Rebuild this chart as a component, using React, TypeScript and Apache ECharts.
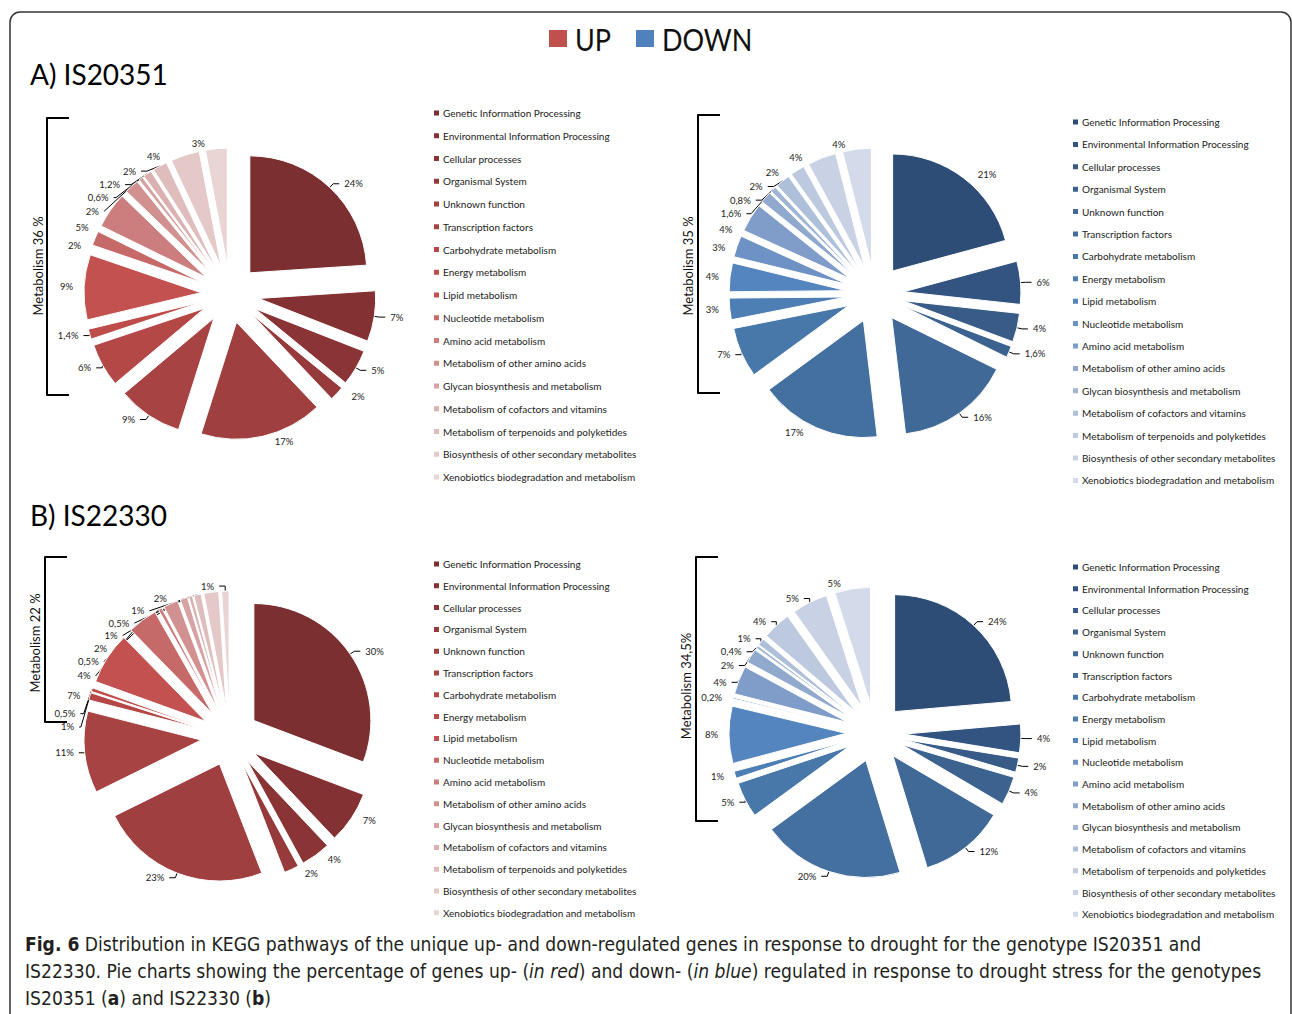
import React, { useEffect, useRef } from "react";
import * as echarts from "echarts";

const categories = [
  "Genetic Information Processing",
  "Environmental Information Processing",
  "Cellular processes",
  "Organismal System",
  "Unknown function",
  "Transcription factors",
  "Carbohydrate metabolism",
  "Energy metabolism",
  "Lipid metabolism",
  "Nucleotide metabolism",
  "Amino acid metabolism",
  "Metabolism of other amino acids",
  "Glycan biosynthesis and metabolism",
  "Metabolism of cofactors and vitamins",
  "Metabolism of terpenoids and polyketides",
  "Biosynthesis of other secondary metabolites",
  "Xenobiotics biodegradation and metabolism",
];

// A) IS20351
const upA = [24, 7, 5, 2, 17, 9, 6, 1.4, 9, 2, 5, 2, 0.6, 1.2, 2, 4, 3];
const downA = [21, 6, 4, 1.6, 16, 17, 7, 3, 4, 3, 4, 1.6, 0.8, 2, 2, 4, 4];
// B) IS22330
const upB = [30, 7, 4, 2, 23, 11, 1, 0.5, 7, 4, 0.5, 2, 1, 0.5, 1, 2, 1];
const downB = [24, 4, 2, 4, 12, 20, 5, 1, 8, 0.2, 4, 2, 0.4, 1, 4, 5, 5];

// which labels carry a leader line
const upALeader = [1, 1, 1, 0, 0, 1, 1, 1, 0, 0, 0, 1, 1, 1, 1, 0, 0];
const downALeader = [0, 1, 1, 1, 1, 0, 1, 0, 0, 0, 0, 1, 1, 1, 0, 0, 0];
const upBLeader = [1, 0, 0, 0, 1, 1, 1, 1, 0, 1, 1, 0, 1, 1, 1, 0, 1];
const downBLeader = [1, 1, 1, 1, 1, 1, 1, 0, 0, 0, 1, 1, 1, 1, 1, 1, 0];

const metabolismLabels = ["Metabolism 36 %", "Metabolism 35 %", "Metabolism 22 %", "Metabolism 34,5%"];

const redShades = [
  "#7C2F30", "#833133", "#8B3436", "#973A3B", "#A03F3F", "#A84343", "#B44847", "#BD4C4B", "#C25150",
  "#C66A69", "#CB7E7D", "#D19190", "#D6A2A2", "#DBB0B0", "#E0BDBD", "#E5C9C9", "#EAD5D5",
];
const blueShades = [
  "#2E4D76", "#335480", "#385B88", "#3C6290", "#406997", "#44709F", "#4877AA", "#4D7EB4", "#5585BE",
  "#6D92C3", "#7F9DC8", "#90A9CD", "#A0B4D3", "#AEBFD9", "#BCC9DE", "#C8D2E4", "#D3DBEA",
];

const FONT = "Lato, 'Open Sans', sans-serif";
const CAP = "'Liberation Sans Narrow', 'DejaVu Sans Condensed', 'Open Sans', sans-serif";

function fmt(v: number) {
  return String(v).replace(".", ",") + "%";
}

function pieSeries(name: string, values: number[], colors: string[], leaders: number[], center: number[]) {
  return {
    type: "pie",
    name,
    center,
    radius: 117,
    startAngle: 90,
    clockwise: true,
    selectedMode: "multiple",
    selectedOffset: 29,
    avoidLabelOverlap: true,
    animation: false,
    itemStyle: { borderColor: "#ffffff", borderWidth: 1 },
    label: {
      show: true,
      position: "outside",
      formatter: (p: any) => fmt(p.value),
      fontSize: 9.5,
      fontFamily: FONT,
      color: "#222",
    },
    labelLine: { show: true, length: 5, length2: 6, lineStyle: { color: "#000", width: 1 } },
    emphasis: { disabled: true },
    data: values.map((v, i) => ({
      name: categories[i],
      value: v,
      selected: true,
      itemStyle: { color: colors[i] },
      select: { itemStyle: { color: colors[i] } },
      labelLine: { show: leaders[i] === 1 },
    })),
  };
}

function legendFor(colors: string[], left: number, top: number, gap: number) {
  return {
    orient: "vertical",
    left,
    top,
    icon: "rect",
    itemWidth: 7,
    itemHeight: 7,
    itemGap: gap,
    selectedMode: false,
    textStyle: { fontSize: 10, fontFamily: FONT, color: "#222", lineHeight: 12, padding: [0, 0, 0, -2] },
    data: categories.map((c, i) => ({ name: c, itemStyle: { color: colors[i] } })),
  };
}

function bracket(x: number, y1: number, y2: number, tx: number, ty: number, text: string) {
  return [
    {
      type: "polyline",
      shape: { points: [[x + 22, y1], [x, y1], [x, y2], [x + 22, y2]] },
      style: { stroke: "#000", lineWidth: 2, fill: null, lineJoin: "round" },
    },
    {
      type: "text",
      x: tx,
      y: ty,
      rotation: Math.PI / 2,
      style: { text, fontSize: 13, fontFamily: FONT, fill: "#111", align: "center", verticalAlign: "middle" },
    },
  ];
}

const capBase = { fontSize: 19.1, fontFamily: CAP, fill: "#231F20" };

export default function App() {
  const ref = useRef<HTMLDivElement>(null);
  useEffect(() => {
    const chart = echarts.init(ref.current!, null, { renderer: "svg" });
    const option: any = {
      animation: false,
      backgroundColor: "#ffffff",
      legend: [
        legendFor(redShades, 427, 102, 10.75),
        legendFor(blueShades, 1066, 111, 10.4),
        legendFor(redShades, 427, 553, 9.8),
        legendFor(blueShades, 1066, 556, 9.7),
      ],
      series: [
        pieSeries("UP IS20351", upA, redShades, upALeader, [230, 294]),
        pieSeries("DOWN IS20351", downA, blueShades, downALeader, [875, 294]),
        pieSeries("UP IS22330", upB, redShades, upBLeader, [230, 737]),
        pieSeries("DOWN IS22330", downB, blueShades, downBLeader, [875, 733]),
      ],
      graphic: [
        {
          type: "rect",
          shape: { x: 10, y: 12, width: 1281, height: 1040, r: 10 },
          style: { stroke: "#333", lineWidth: 1.5, fill: null },
          silent: true,
        },
        { type: "rect", shape: { x: 549, y: 30, width: 18, height: 17 }, style: { fill: "#C0504D" } },
        {
          type: "text",
          x: 575,
          y: 39,
          scaleX: 0.9,
          style: { text: "UP", fontSize: 30, fontFamily: FONT, fill: "#111", verticalAlign: "middle" },
        },
        { type: "rect", shape: { x: 636, y: 30, width: 18, height: 17 }, style: { fill: "#4F81BD" } },
        {
          type: "text",
          x: 662,
          y: 39,
          scaleX: 0.9,
          style: { text: "DOWN", fontSize: 30, fontFamily: FONT, fill: "#111", verticalAlign: "middle" },
        },
        {
          type: "text",
          x: 30,
          y: 74,
          style: { text: "A) IS20351", fontSize: 28, fontFamily: FONT, fill: "#000", verticalAlign: "middle" },
        },
        {
          type: "text",
          x: 30,
          y: 515,
          style: { text: "B) IS22330", fontSize: 28, fontFamily: FONT, fill: "#000", verticalAlign: "middle" },
        },
        ...bracket(47, 118, 395, 38, 266, metabolismLabels[0]),
        ...bracket(698, 115, 393, 688, 266, metabolismLabels[1]),
        ...bracket(45, 557, 722, 35, 643, metabolismLabels[2]),
        ...bracket(696, 557, 821, 686, 686, metabolismLabels[3]),
        {
          type: "text",
          x: 25,
          y: 944,
          style: {
            text: "{b|Fig. 6} Distribution in KEGG pathways of the unique up- and down-regulated genes in response to drought for the genotype IS20351 and",
            ...capBase,
            verticalAlign: "middle",
            rich: { b: { ...capBase, fontWeight: "bold" } },
          },
        },
        {
          type: "text",
          x: 25,
          y: 971,
          style: {
            text: "IS22330. Pie charts showing the percentage of genes up- ({i|in red}) and down- ({i|in blue}) regulated in response to drought stress for the genotypes",
            ...capBase,
            verticalAlign: "middle",
            rich: { i: { ...capBase, fontStyle: "italic" } },
          },
        },
        {
          type: "text",
          x: 25,
          y: 998,
          style: {
            text: "IS20351 ({b|a}) and IS22330 ({b|b})",
            ...capBase,
            verticalAlign: "middle",
            rich: { b: { ...capBase, fontWeight: "bold" } },
          },
        },
      ],
    };
    chart.setOption(option);
    return () => chart.dispose();
  }, []);
  return <div ref={ref} style={{ position: "absolute", left: 0, top: 0, width: 1292, height: 1014 }} />;
}
